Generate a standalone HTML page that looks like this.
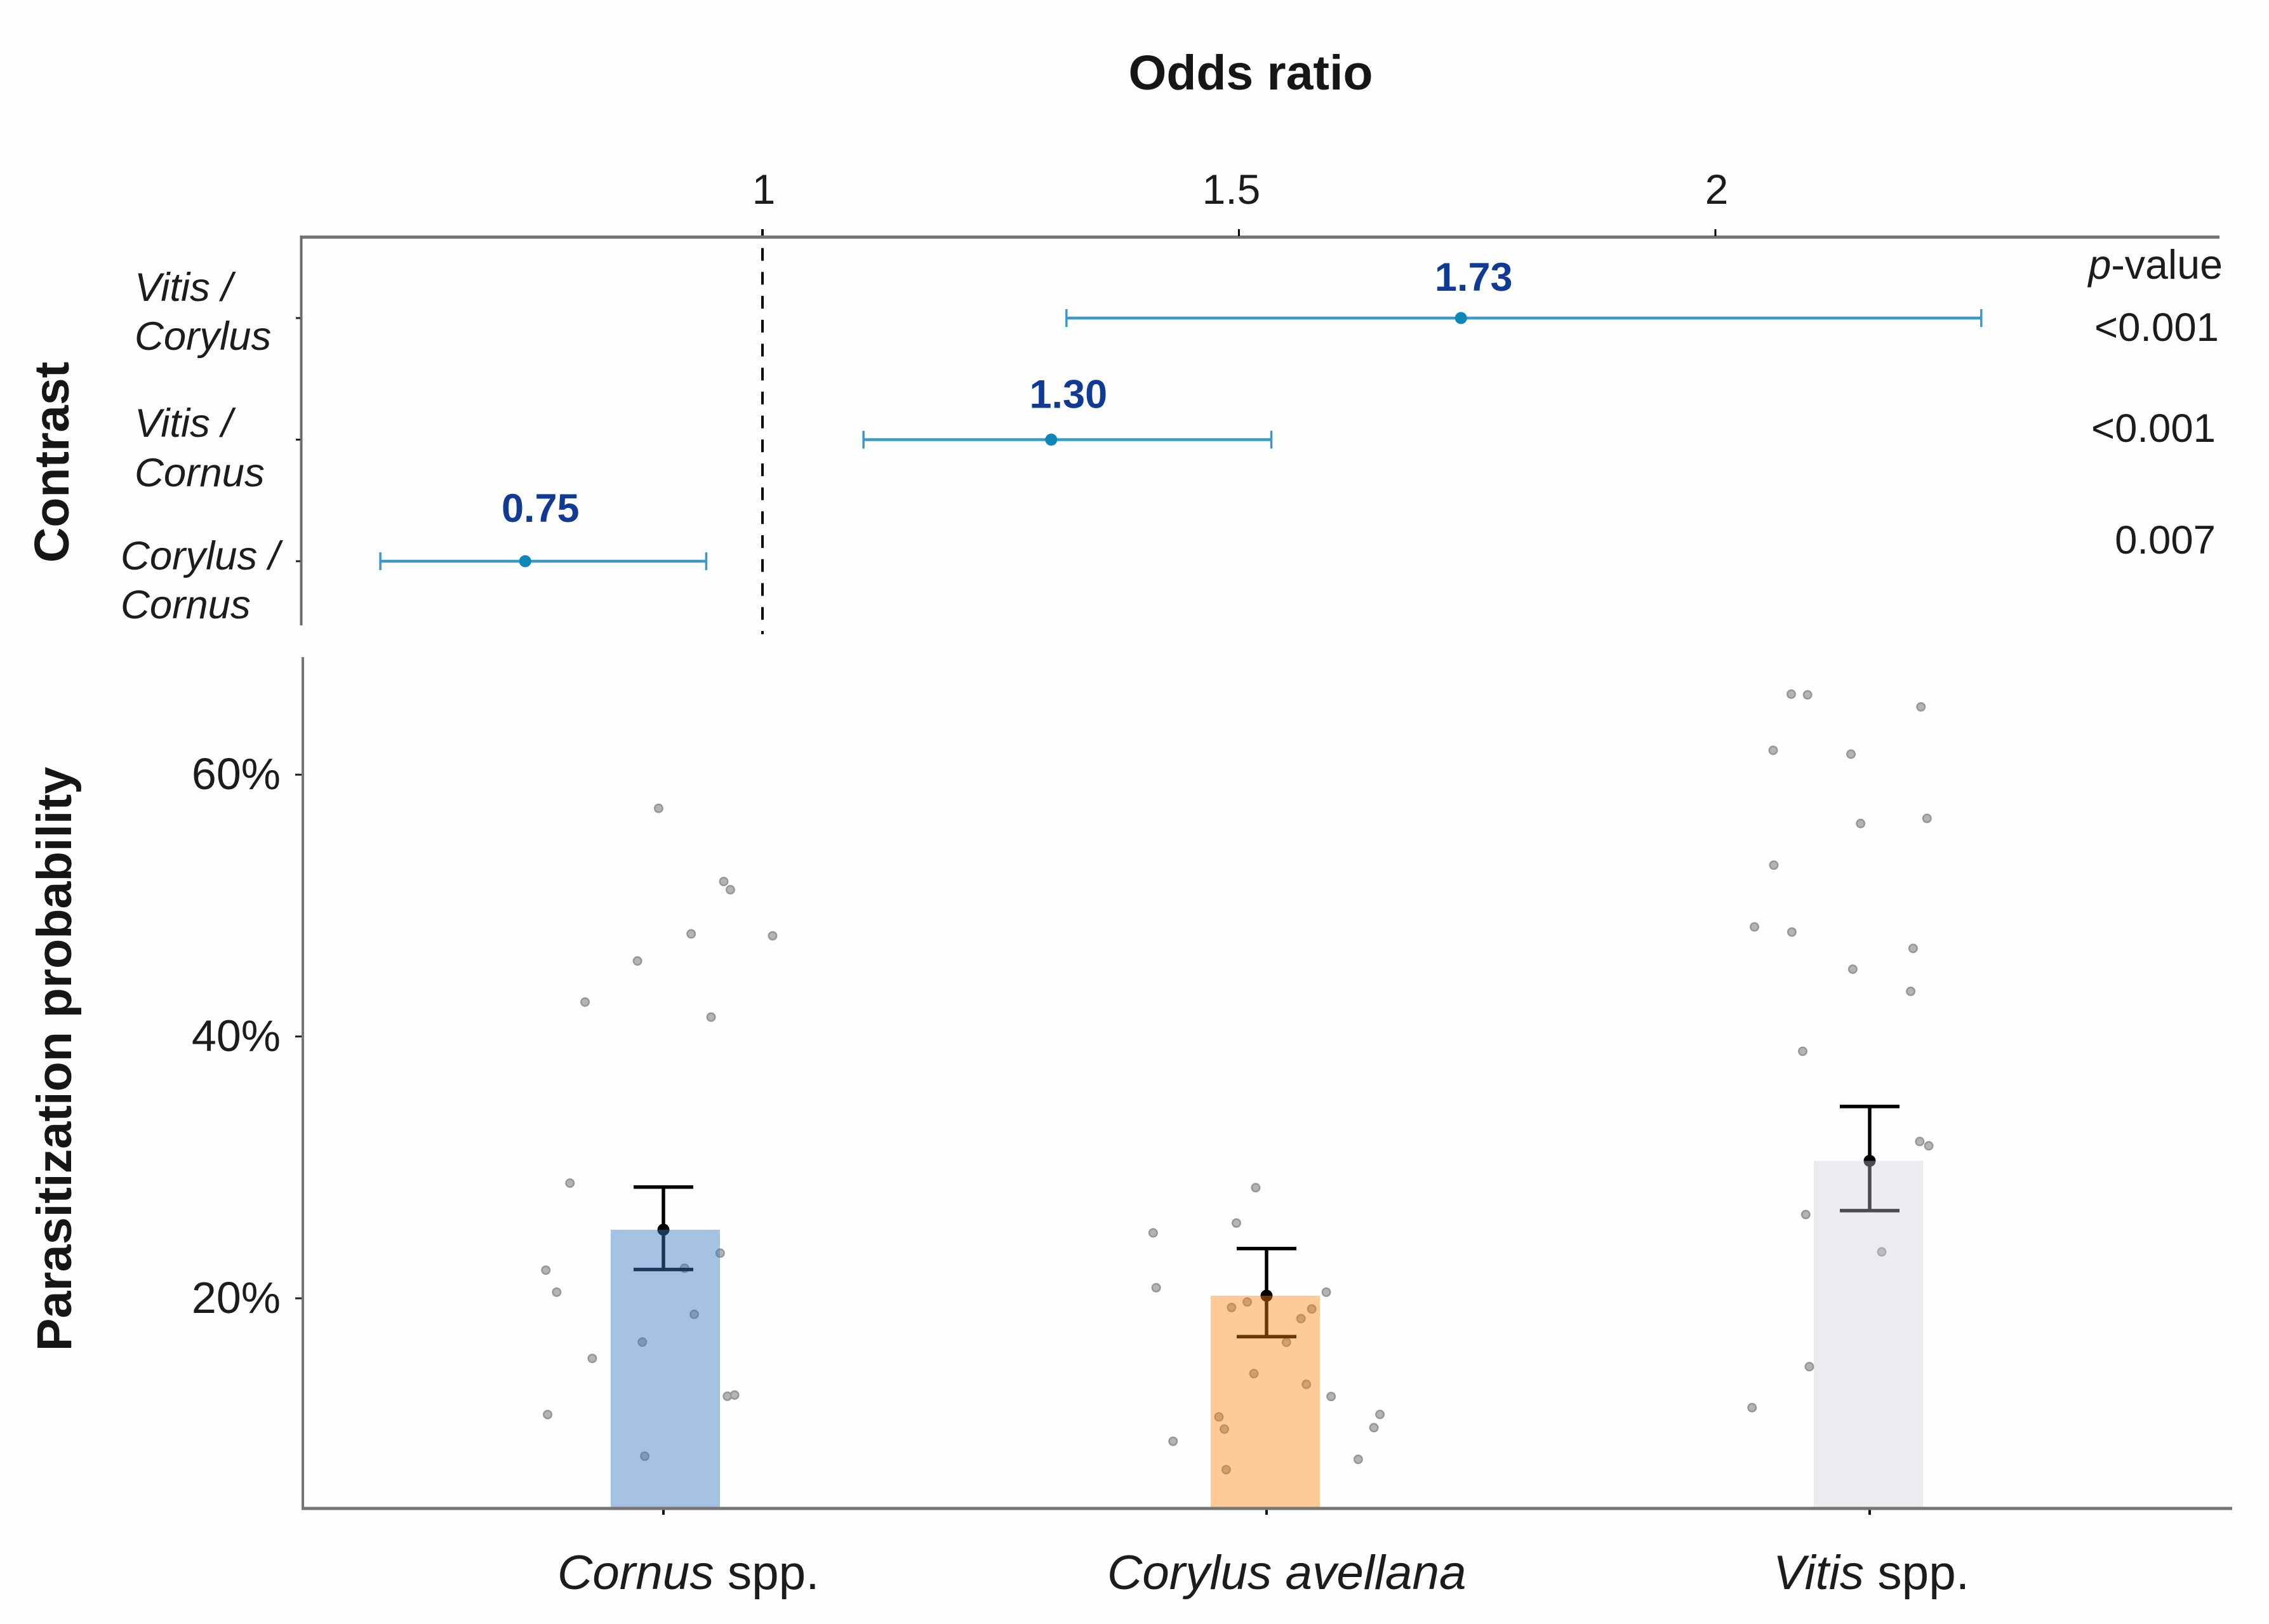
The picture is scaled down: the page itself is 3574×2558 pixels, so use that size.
<!DOCTYPE html>
<html lang="en">
<head>
<meta charset="utf-8">
<title>Odds ratio and parasitization probability</title>
<style>
html,body{margin:0;padding:0;background:#fefefe;}
svg{display:block;font-family:"Liberation Sans",sans-serif;fill:#1c1c1c;}
.title{font-weight:700;font-size:77px;fill:#161616;}
.sp{font-size:63.5px;font-style:italic;}
.pv{font-size:63.5px;text-anchor:end;}
.cat{font-size:76.5px;}
</style>
</head>
<body>
<svg id="chart" xmlns="http://www.w3.org/2000/svg" width="3574" height="2558" viewBox="0 0 3574 2558">
  <rect x="0" y="0" width="3574" height="2558" fill="#fefefe"/>

  <text class="title" x="1970" y="141" text-anchor="middle">Odds ratio</text>
  <text class="title" transform="translate(108,728) rotate(-90)" text-anchor="middle">Contrast</text>
  <text class="title" style="font-size:77.4px" transform="translate(112,1668) rotate(-90)" text-anchor="middle">Parasitization probability</text>

  <g>
    <text class="sp" x="212"><tspan x="212" y="474">Vitis /</tspan><tspan x="212" y="551">Corylus</tspan></text>
    <text class="sp" x="212"><tspan x="212" y="688">Vitis /</tspan><tspan x="212" y="766">Cornus</tspan></text>
    <text class="sp" x="190"><tspan x="190" y="897">Corylus /</tspan><tspan x="190" y="974">Cornus</tspan></text>
  </g>

  <g>
    <text class="pv" style="font-size:64.5px" x="3501" y="439"><tspan font-style="italic">p</tspan>-value</text>
    <text class="pv" x="3495" y="537">&lt;0.001</text>
    <text class="pv" x="3490" y="696">&lt;0.001</text>
    <text class="pv" x="3490" y="872">0.007</text>
  </g>

  <g>
    <text class="cat" x="878" y="2503"><tspan font-style="italic">Cornus</tspan> spp.</text>
    <text class="cat" x="1744" y="2503" font-style="italic">Corylus avellana</text>
    <text class="cat" x="2793" y="2503"><tspan font-style="italic">Vitis</tspan> spp.</text>
  </g>

  <g id="forest"></g>
  <g id="bars"></g>
</svg>

<script>
// ---- Forest plot data ----
const oddsTicks = [1, 1.5, 2];
const oddsEstimates = [1.733, 1.303, 0.751];
const oddsLow = [1.319, 1.106, 0.599];
const oddsHigh = [2.279, 1.534, 0.941];
const oddsPrinted = ['1.73', '1.30', '0.75'];

// ---- Bar chart data ----
const species = ['Cornus', 'Corylus', 'Vitis'];
const probabilityTicks = [20, 40, 60];
const meanProbability = [25.24, 20.2, 30.5];
const probabilityLow = [22.2, 17.07, 26.7];
const probabilityHigh = [28.5, 23.8, 34.65];

const cornusValues = [57.43, 51.84, 51.21, 47.84, 47.69, 45.77, 42.63, 41.48, 28.8, 23.45, 22.15, 22.3, 20.47, 18.78, 16.66, 15.41, 12.52, 12.61, 11.12, 7.94];
const cornusJitter = [-0.008, 0.1, 0.111, 0.046, 0.181, -0.043, -0.13, 0.079, -0.155, 0.094, -0.195, 0.035, -0.177, 0.051, -0.035, -0.118, 0.106, 0.118, -0.192, -0.031];
const corylusValues = [28.45, 25.75, 25, 20.81, 20.47, 19.72, 19.3, 19.19, 18.45, 16.64, 14.25, 13.43, 12.5, 11.13, 10.94, 10.12, 10.01, 9.08, 7.7, 6.91];
const corylusJitter = [-0.018, -0.05, -0.188, -0.183, 0.099, -0.032, -0.058, 0.075, 0.057, 0.033, -0.021, 0.066, 0.107, 0.188, -0.079, 0.178, -0.07, -0.155, 0.152, -0.067];
const vitisValues = [66.15, 66.1, 65.18, 61.86, 61.57, 56.66, 56.27, 53.09, 48.37, 47.98, 46.73, 45.14, 43.45, 38.87, 31.98, 31.65, 26.4, 23.55, 14.78, 11.65];
const vitisJitter = [-0.13, -0.103, 0.085, -0.16, -0.031, 0.095, -0.015, -0.159, -0.191, -0.129, 0.072, -0.028, 0.068, -0.111, 0.083, 0.098, -0.106, 0.02, -0.1, -0.195];
const pointValues = [cornusValues, corylusValues, vitisValues];
const pointJitter = [cornusJitter, corylusJitter, vitisJitter];

// ---- Axis functions ----
const NS = 'http://www.w3.org/2000/svg';
const xOdds = function (v) { return 1201 + (v - 1) * 1501; };
const yRow = function (i) { return 501 + 191.5 * i; };
const yProb = function (p) { return 2045 - (p - 20) * 20.62; };
const xCat = function (c) { return 1045 + 950 * c; };

function mk(parent, tag, props) {
  const el = document.createElementNS(NS, tag);
  for (const k in props) el.setAttribute(k, props[k]);
  parent.appendChild(el);
  return el;
}
function line(parent, x1, y1, x2, y2, stroke, width) {
  return mk(parent, 'line', { x1: x1, y1: y1, x2: x2, y2: y2, stroke: stroke, 'stroke-width': width });
}

const forest = document.getElementById('forest');
const bars = document.getElementById('bars');
const AXIS = '#767676';
const FOREST = '#3a98cc';

// Reference line at OR = 1
const refLine = line(forest, xOdds(1), 361, xOdds(1), 999, '#000', 4);
refLine.setAttribute('stroke-dasharray', '20 17.7');
refLine.setAttribute('stroke-dashoffset', '8');



// Forest axes
const oddsAxis = line(forest, 473, 373.5, 3496, 373.5, AXIS, 5);


const contrastAxis = line(forest, 474.5, 371, 474.5, 985, '#6a6a6a', 4);



oddsTicks.forEach(function (t) {
  const x = xOdds(t);
  if (t !== 1) {
    const tick = line(forest, x, 361, x, 372, '#000', 3);
    
    
  }
  const nudge = t === 1.5 ? -12 : 2;
  const label = mk(forest, 'text', { x: x + nudge, y: 321, 'text-anchor': 'middle', 'font-size': 66 });
  label.textContent = String(t);
  
  
});

oddsEstimates.forEach(function (est, i) {
  const y = yRow(i);
  const tick = line(forest, 466, y, 473, y, '#222', 3);
  
  
  const span = line(forest, xOdds(oddsLow[i]), y, xOdds(oddsHigh[i]), y, FOREST, 4.5);
  
  
  const capL = line(forest, xOdds(oddsLow[i]), y - 14, xOdds(oddsLow[i]), y + 14, FOREST, 3.5);
  
  
  const capH = line(forest, xOdds(oddsHigh[i]), y - 14, xOdds(oddsHigh[i]), y + 14, FOREST, 3.5);
  
  
  const dot = mk(forest, 'circle', { cx: xOdds(est), cy: y, r: 9.5, fill: '#0d86b9' });
  
  
  const lift = i === 0 ? 43 : i === 1 ? 50 : 62;
  const shift = i === 0 ? 20 : i === 1 ? 27 : 24;
  const value = mk(forest, 'text', { x: xOdds(est) + shift, y: y - lift, 'text-anchor': 'middle', 'font-size': 63, 'font-weight': 700, fill: '#103a94' });
  value.textContent = oddsPrinted[i];
  
  
});

// Probability panel
probabilityTicks.forEach(function (t) {
  const y = yProb(t);
  const tick = line(bars, 465, y, 476, y, '#222', 3);
  
  
  const label = mk(bars, 'text', { x: 442, y: y + 23, 'text-anchor': 'end', 'font-size': 70 });
  label.textContent = t + '%';
  
  
});

// Jittered observations
pointValues.forEach(function (vals, c) {
  vals.forEach(function (v, i) {
    const dot = mk(bars, 'circle', { cx: xCat(c + pointJitter[c][i]), cy: yProb(v), r: 6.2, fill: '#b4b4b4', stroke: '#979797', 'stroke-width': 2.5 });
    
    
  });
});

// Error bars and means
meanProbability.forEach(function (m, c) {
  const x = xCat(c);
  const stem = line(bars, x, yProb(probabilityHigh[c]), x, yProb(probabilityLow[c]), '#000', 5.5);
  
  
  const capTop = line(bars, x - 47, yProb(probabilityHigh[c]), x + 47, yProb(probabilityHigh[c]), '#000', 5.5);
  
  
  const capLow = line(bars, x - 47, yProb(probabilityLow[c]), x + 47, yProb(probabilityLow[c]), '#000', 5.5);
  
  
  const mean = mk(bars, 'circle', { cx: x, cy: yProb(m), r: 9.5, fill: '#000' });
  
  
});

// Translucent bars drawn over the marks
const barFills = ['#3a7ac8', '#ff850c', '#c8ced6'];
const barOpacity = [0.45, 0.42, 0.37];
meanProbability.forEach(function (m, c) {
  const barShift = c === 0 ? 3 : c === 1 ? -2 : -2;
  const bar = mk(bars, 'rect', { x: xCat(c) - 86 + barShift, y: yProb(m), width: 172, height: 2376 - yProb(m), fill: barFills[c], 'fill-opacity': barOpacity[c] });
  
  
  const tick = line(bars, xCat(c), 2376, xCat(c), 2386, '#111', 4);
  
  
});

const probAxis = line(bars, 477, 1035, 477, 2378, AXIS, 4);


const speciesAxis = line(bars, 475, 2376, 3516, 2376, AXIS, 5);


</script>
</body>
</html>
